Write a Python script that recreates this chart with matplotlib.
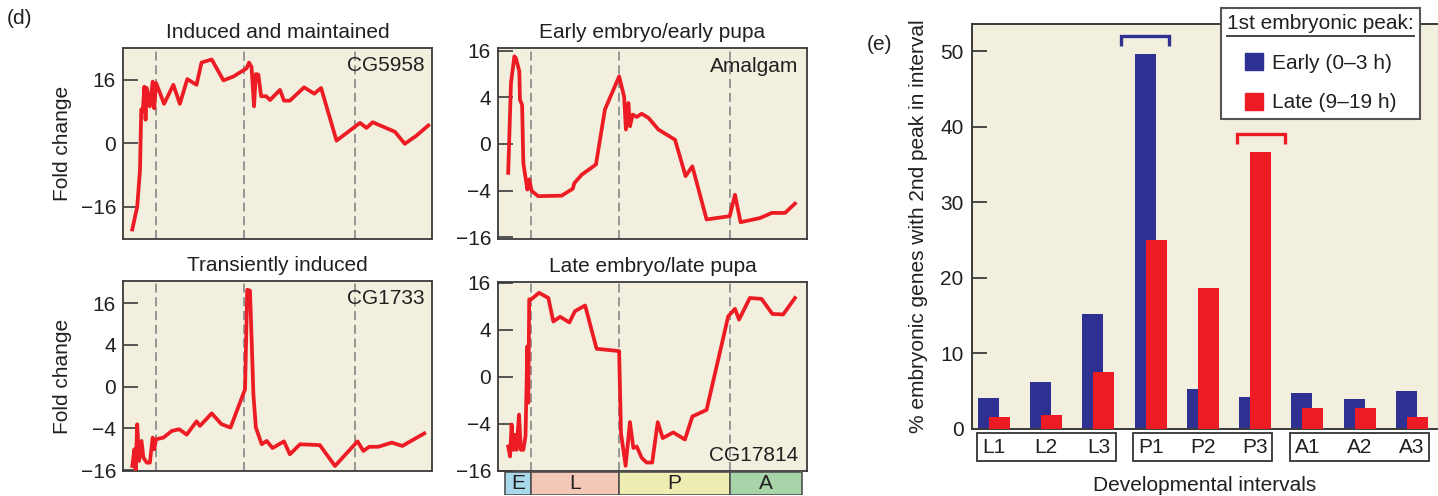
import numpy as np
import matplotlib.pyplot as plt
from matplotlib.patches import Patch, Rectangle
from matplotlib.lines import Line2D

plt.rcParams['font.family'] = ['Liberation Sans', 'DejaVu Sans']
plt.rcParams['text.color'] = '#231f20'
plt.rcParams['axes.labelcolor'] = '#231f20'

# Expression profiles over development (x: 0-100 across the time course,
# y: position on the compressed fold-change axis, 1 step = one tick label)
cg5958_t = [3.0, 4.6, 5.5, 5.9, 6.4, 6.9, 7.3, 7.7, 8.7, 9.6, 10.1, 10.7, 13.3, 16.3,
            18.4, 20.8, 23.8, 25.4, 28.7, 32.5, 35.7, 40.0, 40.8, 41.6, 42.4, 43.0,
            43.8, 44.7, 46.3, 47.6, 50.8, 52.1, 54.0, 58.6, 61.9, 64.1, 69.1, 76.7,
            78.8, 80.8, 88.0, 91.2, 95.0, 98.8]
cg5958_y = [-1.36, -1.0, -0.42, 0.53, 0.50, 0.89, 0.37, 0.87, 0.58, 0.97, 0.55, 0.95,
            0.62, 0.92, 0.62, 1.01, 0.92, 1.27, 1.32, 0.99, 1.05, 1.18, 1.27, 1.20,
            0.58, 1.09, 1.08, 0.74, 0.74, 0.68, 0.84, 0.67, 0.67, 0.88, 0.78, 0.87,
            0.04, 0.32, 0.24, 0.33, 0.18, -0.01, 0.12, 0.28]

amalgam_t = [3.3, 4.2, 5.3, 5.8, 6.9, 7.1, 7.8, 8.2, 9.5, 10.1, 10.9, 13.0, 20.6, 24.2,
             24.7, 27.1, 31.7, 34.6, 39.2, 40.8, 41.4, 42.2, 42.7, 43.6, 44.9, 46.5,
             48.7, 51.9, 57.3, 60.7, 62.9, 67.5, 75.0, 76.7, 78.5, 84.8, 88.6, 92.9,
             96.1]
amalgam_y = [-0.62, 1.31, 1.88, 1.84, 1.56, 0.95, 0.84, -0.41, -0.98, -0.76, -1.01,
             -1.12, -1.11, -0.96, -0.84, -0.66, -0.44, 0.74, 1.45, 1.02, 0.31, 0.88,
             0.38, 0.63, 0.58, 0.65, 0.56, 0.31, 0.09, -0.69, -0.48, -1.62, -1.55,
             -1.09, -1.68, -1.59, -1.48, -1.48, -1.28]

cg1733_t = [3.0, 3.7, 4.1, 4.6, 5.2, 6.0, 6.6, 7.7, 8.7, 9.6, 10.1, 10.7, 13.1, 15.8,
            18.2, 20.6, 23.8, 24.9, 28.7, 31.9, 34.8, 39.5, 40.2, 41.1, 41.6, 42.2,
            43.0, 44.9, 46.5, 48.4, 52.1, 54.0, 57.3, 63.7, 68.6, 75.9, 77.8, 79.7,
            82.6, 87.0, 90.4, 97.5]
cg1733_y = [-1.90, -1.50, -2.00, -0.90, -1.78, -1.30, -1.70, -1.82, -1.82, -1.22,
            -1.50, -1.26, -1.22, -1.06, -1.02, -1.15, -0.83, -0.94, -0.64, -0.90,
            -0.98, -0.06, 2.32, 2.30, 1.18, -0.18, -0.98, -1.38, -1.30, -1.47, -1.31,
            -1.62, -1.38, -1.40, -1.90, -1.31, -1.54, -1.44, -1.44, -1.34, -1.42,
            -1.12]

cg17814_t = [3.3, 3.9, 4.4, 5.0, 5.5, 6.0, 6.8, 7.4, 8.2, 8.9, 9.5, 9.8, 10.1, 10.7,
             13.3, 16.3, 17.9, 20.1, 23.1, 24.9, 28.2, 31.9, 39.2, 39.8, 41.3, 42.7,
             43.8, 44.9, 46.5, 48.1, 49.9, 51.7, 53.3, 56.7, 60.5, 62.9, 67.5, 74.5,
             76.7, 78.0, 81.5, 85.3, 88.8, 92.3, 96.1]
cg17814_y = [-1.48, -1.69, -1.01, -1.55, -1.23, -1.55, -0.80, -1.55, -1.55, -1.26,
             0.65, -0.55, 1.65, 1.65, 1.79, 1.68, 1.18, 1.28, 1.16, 1.40, 1.52, 0.60,
             0.55, -1.19, -1.89, -0.96, -1.51, -1.48, -1.72, -1.82, -1.82, -0.96,
             -1.30, -1.18, -1.33, -0.84, -0.70, 1.29, 1.45, 1.22, 1.68, 1.66, 1.34,
             1.33, 1.68]

stage_bounds = [10.8, 39.2, 75.2]
stage_names = ['E', 'L', 'P', 'A']
stage_edges = [2.3, 10.6, 39.0, 75.0, 98.4]
stage_colors = ['#a9d8ea', '#f3c8b7', '#efeeb2', '#a8d4a9']

# Percent of embryonic genes with their 2nd peak in each interval
intervals = ['L1', 'L2', 'L3', 'P1', 'P2', 'P3', 'A1', 'A2', 'A3']
early = [4.1, 6.2, 15.2, 49.6, 5.3, 4.2, 4.75, 4.0, 5.0]
late = [1.6, 1.85, 7.5, 25.0, 18.6, 36.6, 2.8, 2.8, 1.6]

W, H = 1438, 496
bg = '#f2efdf'
red = '#ed1c24'
blue = '#2e3192'
dark = '#3a3a3a'

fig = plt.figure(figsize=(W / 100, H / 100), dpi=100)


def px_axes(left, top, right, bottom):
    return fig.add_axes([left / W, 1 - bottom / H, (right - left) / W, (bottom - top) / H])


def line_panel(ax, t, y, ylim, ticks, labels, title, gene, gene_xy, gene_va):
    ax.set_facecolor(bg)
    for b in stage_bounds:
        ax.axvline(b, color='#8e8e8e', ls=(0, (5, 2.6)), lw=1.3, zorder=1)
    ax.plot(t, y, color=red, lw=2.7, zorder=3)
    ax.set_xlim(0, 100)
    ax.set_ylim(*ylim)
    ax.set_xticks([])
    ax.set_yticks(ticks, labels)
    ax.tick_params(axis='y', direction='in', length=11, width=1.2, color=dark,
                   labelsize=15, labelcolor='#231f20', pad=5)
    for s in ax.spines.values():
        s.set_color(dark)
        s.set_linewidth(1.3)
    ax.set_title(title, fontsize=15, pad=7)
    ax.text(*gene_xy, gene, transform=ax.transAxes, ha='right', va=gene_va, fontsize=15)


ax1 = px_axes(123, 48, 432, 239)
line_panel(ax1, cg5958_t, cg5958_y, (-1.51, 1.50), [1, 0, -1], ['16', '0', '\u221216'],
           'Induced and maintained', 'CG5958', (0.977, 0.91), 'center')
ax1.set_ylabel('Fold change', fontsize=15)
ax1.yaxis.set_label_coords(-0.165, 0.5)

ax2 = px_axes(498, 48, 807, 239)
line_panel(ax2, amalgam_t, amalgam_y, (-2.04, 2.06), [2, 1, 0, -1, -2],
           ['16', '4', '0', '\u22124', '\u221216'],
           'Early embryo/early pupa', 'Amalgam', (0.971, 0.905), 'center')

ax3 = px_axes(123, 281, 432, 471)
line_panel(ax3, cg1733_t, cg1733_y, (-2.02, 2.53), [2, 1, 0, -1, -2],
           ['16', '4', '0', '\u22124', '\u221216'],
           'Transiently induced', 'CG1733', (0.977, 0.91), 'center')
ax3.set_ylabel('Fold change', fontsize=15)
ax3.yaxis.set_label_coords(-0.165, 0.5)

ax4 = px_axes(498, 282, 807, 471)
line_panel(ax4, cg17814_t, cg17814_y, (-2.0, 2.02), [2, 1, 0, -1, -2],
           ['16', '4', '0', '\u22124', '\u221216'],
           'Late embryo/late pupa', 'CG17814', (0.971, 0.084), 'center')

# developmental stage strip under the last panel
axs = px_axes(498, 472, 807, 495)
widths = np.diff(stage_edges)
axs.barh(0, widths, left=stage_edges[:-1], height=1, color=stage_colors,
         edgecolor='#505050', lw=1.2)
for name, left, w in zip(stage_names, stage_edges[:-1], widths):
    axs.text(left + w / 2, 0, name, ha='center', va='center', fontsize=15)
axs.set_xlim(0, 100)
axs.set_ylim(-0.5, 0.5)
axs.axis('off')

fig.text(20 / W, 1 - 18 / H, '(d)', ha='center', va='center', fontsize=15)
fig.text(880 / W, 1 - 44 / H, '(e)', ha='center', va='center', fontsize=15)

# (e) bar chart
axb = px_axes(972, 24, 1438, 429)
axb.set_facecolor(bg)
x = np.arange(len(intervals))
axb.bar(x - 0.105, early, width=0.40, color=blue, zorder=2)
axb.bar(x + 0.105, late, width=0.40, color=red, zorder=3)
axb.set_xlim(-0.42, 8.5)
axb.set_ylim(0, 53.6)
axb.set_yticks([0, 10, 20, 30, 40, 50])
axb.set_xticks([])
axb.tick_params(axis='y', direction='in', length=11, width=1.3, color=dark,
                labelsize=15, labelcolor='#231f20', pad=6)
axb.spines['right'].set_visible(False)
for k in ['left', 'top', 'bottom']:
    axb.spines[k].set_color(dark)
    axb.spines[k].set_linewidth(1.4)

# brackets above the highest bar of each series
for xc, val, col in [(x[3] - 0.105, early[3], blue), (x[5] + 0.105, late[5], red)]:
    top = val + 2.4
    axb.plot([xc - 0.46, xc - 0.46, xc + 0.46, xc + 0.46],
             [top - 1.3, top, top, top - 1.3], color=col, lw=2.4,
             solid_joinstyle='miter', solid_capstyle='butt', clip_on=False, zorder=4)

# boxed group labels under the axis
tr = axb.get_xaxis_transform()
for g in range(3):
    axb.add_patch(Rectangle((3 * g - 0.33, -0.079), 2.66, 0.068, transform=tr,
                            fill=False, ec='#333333', lw=1.3, clip_on=False))
for i, name in enumerate(intervals):
    axb.text(i, -0.045, name, transform=tr, ha='center', va='center', fontsize=15)

axb.set_xlabel('Developmental intervals', fontsize=15)
axb.xaxis.set_label_coords(0.5, -0.115)
axb.set_ylabel('% embryonic genes with 2nd peak in interval', fontsize=15)
axb.yaxis.set_label_coords(-0.094, 0.5)

leg = axb.legend(handles=[Patch(color=blue), Patch(color=red)],
                 labels=['Early (0\u20133 h)', 'Late (9\u201319 h)'],
                 title='1st embryonic peak:', loc='upper right',
                 bbox_to_anchor=(1420 / W, 1 - 8 / H), bbox_transform=fig.transFigure,
                 fontsize=15, title_fontsize=15, frameon=True, fancybox=False,
                 edgecolor='#555555', framealpha=1, handlelength=0.9, handleheight=0.9,
                 handletextpad=0.4, labelspacing=0.95, borderpad=0.3, borderaxespad=0)
leg.get_frame().set_linewidth(1.5)
leg.set_zorder(10)

# underline the legend title
fig.canvas.draw()
bb = leg.get_title().get_window_extent()
inv = fig.transFigure.inverted()
(x0, y0), (x1, _) = inv.transform([(bb.x0, bb.y0 - 3), (bb.x1, bb.y0)])
fig.add_artist(Line2D([x0, x1], [y0, y0], transform=fig.transFigure,
                      color='#444444', lw=1.4, zorder=11))

fig.savefig('out.png', dpi=100)
